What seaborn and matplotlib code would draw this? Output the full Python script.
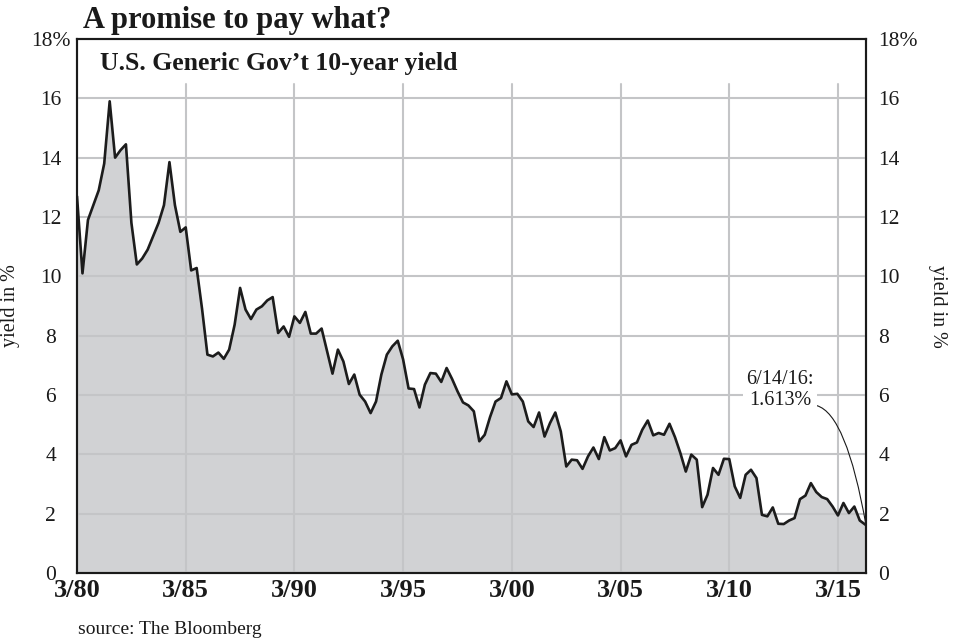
import matplotlib
matplotlib.use("Agg")
import matplotlib.pyplot as plt
import seaborn as sns
import pandas as pd

sns.set_theme(style="white")
plt.rcParams["font.family"] = ["Liberation Serif", "DejaVu Serif"]

# quarterly observation dates (Mar/Jun/Sep/Dec), 3/80 .. 3/16, plus the last reading 6/14/16
quarter_dates = list(pd.date_range("1980-03-01", "2016-03-01", freq="QS-MAR")) + [pd.Timestamp("2016-06-14")]

yield_pct = [
    12.7, 10.1, 11.9, 12.4,      # 1980
    12.9, 13.8, 15.9, 14.0,      # 1981
    14.25, 14.45, 11.8, 10.4,    # 1982
    10.6, 10.9, 11.35, 11.8,     # 1983
    12.4, 13.85, 12.4, 11.5,     # 1984
    11.65, 10.2, 10.28, 8.9,     # 1985
    7.36, 7.3, 7.43, 7.22,       # 1986
    7.53, 8.37, 9.61, 8.88,      # 1987
    8.56, 8.88, 8.99, 9.19,      # 1988
    9.3, 8.09, 8.31, 7.96,       # 1989
    8.65, 8.43, 8.8, 8.07,       # 1990
    8.07, 8.24, 7.47, 6.72,      # 1991
    7.53, 7.13, 6.37, 6.69,      # 1992
    6.01, 5.78, 5.39, 5.78,      # 1993
    6.69, 7.36, 7.64, 7.83,      # 1994
    7.2, 6.22, 6.2, 5.58,        # 1995
    6.35, 6.74, 6.72, 6.44,      # 1996
    6.91, 6.54, 6.12, 5.75,      # 1997
    5.65, 5.45, 4.44, 4.66,      # 1998
    5.26, 5.78, 5.9, 6.46,       # 1999
    6.02, 6.04, 5.78, 5.11,      # 2000
    4.92, 5.41, 4.6, 5.05,       # 2001
    5.41, 4.77, 3.59, 3.82,      # 2002
    3.8, 3.51, 3.93, 4.23,       # 2003
    3.84, 4.58, 4.13, 4.21,      # 2004
    4.47, 3.93, 4.32, 4.4,       # 2005
    4.83, 5.14, 4.64, 4.72,      # 2006
    4.66, 5.03, 4.58, 4.04,      # 2007
    3.42, 3.99, 3.82, 2.22,      # 2008
    2.64, 3.54, 3.31, 3.85,      # 2009
    3.84, 2.92, 2.53, 3.31,      # 2010
    3.48, 3.2, 1.96, 1.91,       # 2011
    2.21, 1.66, 1.65, 1.77,      # 2012
    1.85, 2.49, 2.61, 3.03,      # 2013
    2.73, 2.56, 2.49, 2.24,      # 2014
    1.94, 2.36, 2.02, 2.24,      # 2015
    1.77, 1.613,                 # 2016
]

x_tick_dates = ["1980-03-01", "1985-03-01", "1990-03-01", "1995-03-01",
                "2000-03-01", "2005-03-01", "2010-03-01", "2015-03-01"]
x_tick_labels = ["3/80", "3/85", "3/90", "3/95", "3/00", "3/05", "3/10", "3/15"]
y_ticks = [0, 2, 4, 6, 8, 10, 12, 14, 16, 18]
y_tick_labels = ["0", "2", "4", "6", "8", "10", "12", "14", "16", "18%"]

title = "A promise to pay what?"
subtitle = "U.S. Generic Gov\u2019t 10-year yield"
source = "source: The Bloomberg"
note = "6/14/16:\n1.613%"

df = pd.DataFrame({"date": quarter_dates, "yield": yield_pct})
xticks = pd.to_datetime(x_tick_dates)

W, H = 959, 642
fig = plt.figure(figsize=(W / 100, H / 100), dpi=100)
fig.patch.set_facecolor("white")
ax = fig.add_axes([77 / W, 1 - 573 / H, (866 - 77) / W, (573 - 39) / H])
ax.set_facecolor("white")

ax.fill_between(df["date"], df["yield"], 0, color="#d1d2d4", lw=0, zorder=2)
sns.lineplot(data=df, x="date", y="yield", color="#1c1c1c", lw=1.9, ax=ax, zorder=4)

ax.set_xlim(df["date"].iloc[0], df["date"].iloc[-1])
ax.set_ylim(0, 18)

grid_c = "#c4c5c7"
for yv in y_ticks[1:-1]:
    ax.axhline(yv, color=grid_c, lw=1.5, zorder=3)
for xv in xticks[1:]:
    ax.axvline(xv, ymin=0, ymax=16.5 / 18, color=grid_c, lw=1.5, zorder=3)

ax.set_xticks(xticks)
ax.set_xticklabels(x_tick_labels, fontweight="bold", fontsize=19, color="#1a1a1a")
ax.set_yticks(y_ticks)
ax.set_yticklabels(y_tick_labels, fontsize=15.5, color="#1a1a1a")
for lbl in ax.get_yticklabels():
    lbl.set_horizontalalignment("center")
ax.tick_params(axis="x", length=0, pad=4)
ax.tick_params(axis="y", length=0, pad=19)
ax.set_xlabel("")
ax.set_ylabel("yield in %", fontsize=14.5, color="#1a1a1a")
ax.yaxis.set_label_coords((20 - 77) / (866 - 77), 0.5)

ax2 = ax.twinx()
ax2.set_ylim(0, 18)
ax2.set_yticks(y_ticks)
ax2.set_yticklabels(y_tick_labels, fontsize=15.5, color="#1a1a1a")
ax2.tick_params(axis="y", length=0, pad=9)
ax2.set_ylabel("yield in %", fontsize=14.5, color="#1a1a1a", rotation=270, va="center")
ax2.yaxis.set_label_coords((937 - 77) / (866 - 77), 0.5)

for a in (ax, ax2):
    for s in a.spines.values():
        s.set_color("#1a1a1a")
        s.set_linewidth(1.5)
        s.set_visible(True)

ax.annotate(note, xy=(df["date"].iloc[-1], yield_pct[-1]),
            xytext=(pd.Timestamp("2012-07-01"), 6.18), textcoords="data",
            ha="center", va="center", fontsize=14.5, color="#1a1a1a", linespacing=1.15,
            bbox=dict(boxstyle="square,pad=0.15", fc="white", ec="none"),
            arrowprops=dict(arrowstyle="-", lw=0.8, color="#1a1a1a", relpos=(0.97, 0.12),
                            shrinkA=0, shrinkB=0,
                            connectionstyle="angle3,angleA=0,angleB=100"),
            zorder=6)

fig.text(83 / W, 1 - 28 / H, title, fontsize=22, fontweight="bold", color="#1a1a1a", va="baseline")
fig.text(100 / W, 1 - 70 / H, subtitle, fontsize=18.5, fontweight="bold", color="#1a1a1a", va="baseline")
fig.text(78 / W, 1 - 630 / H, source, fontsize=14, color="#1a1a1a", va="center")

fig.savefig("out.png", dpi=100, facecolor="white")
